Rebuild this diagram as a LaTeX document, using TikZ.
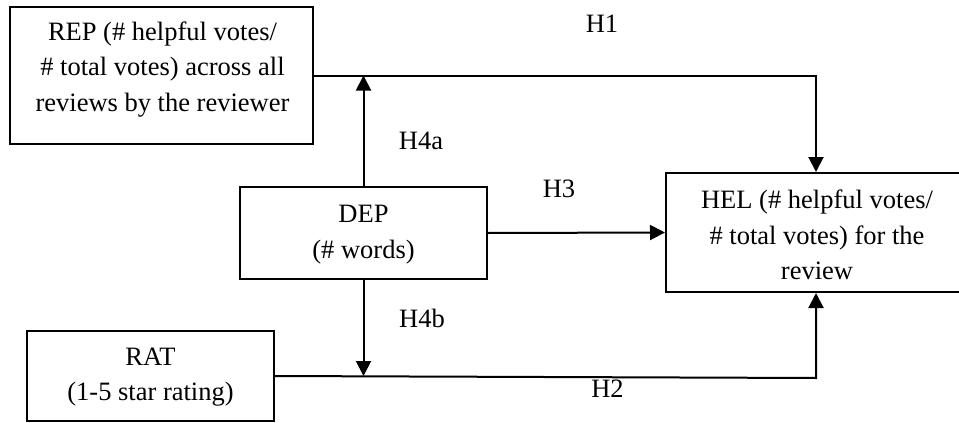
\documentclass[tikz,border=0pt]{standalone}
\usepackage{fontspec}
\setmainfont{Liberation Serif}
\usetikzlibrary{arrows.meta}
\begin{document}
\begin{tikzpicture}[x=1pt,y=-1pt,
  box/.style={draw, line width=2pt, inner sep=0pt},
  txt/.style={align=center, inner sep=0pt, font=\fontsize{26.5}{35.5}\selectfont},
  hyp/.style={anchor=base, inner sep=0pt, font=\fontsize{26.5}{35.5}\selectfont},
  conn/.style={line width=2pt},
  arr/.style={conn, -{Triangle[length=15pt,width=15pt]}}]
\useasboundingbox (0,0) rectangle (959,423);
% boxes
\node[box, minimum width=303pt, minimum height=137pt] (rep) at (161.5,75.5) {};
\node[box, minimum width=247pt, minimum height=92pt] (dep) at (363.5,233) {};
\node[box, minimum width=302pt, minimum height=119pt] (hel) at (817,232.5) {};
\node[box, minimum width=247pt, minimum height=90pt] (rat) at (150.5,376) {};
% texts
\node[txt] (rept) at (162.5,69.5) {REP (\# helpful votes/\\\# total votes) across all\\reviews by the reviewer};
\node[txt] (dept) at (363.5,234.5) {DEP\\(\# words)};
\node[txt] (helt) at (817,235) {HEL (\# helpful votes/\\\# total votes) for the\\review};
\node[txt] (ratt) at (150.5,377) {RAT\\(1-5 star rating)};
% hypothesis labels
\node[hyp] (h1) at (602,32) {H1};
\node[hyp] (h4a) at (421,149) {H4a};
\node[hyp] (h3) at (559,197) {H3};
\node[hyp] (h4b) at (422,327) {H4b};
\node[hyp] (h2) at (607.5,397) {H2};
% connectors
\coordinate (k1) at (816,75.5);
\coordinate (k2) at (816,378);
\draw[arr] (rep.east) -- (k1) -- (k1 |- hel.north);
\draw[arr] (dep.north) -- (dep.north |- rep.east);
\draw[arr] (dep.east) -- (hel.west);
\draw[arr] (dep.south) -- (dep.south |- rat.east);
\draw[arr] (rat.east) -- (k2) -- (k2 |- hel.south);
\end{tikzpicture}
\end{document}
